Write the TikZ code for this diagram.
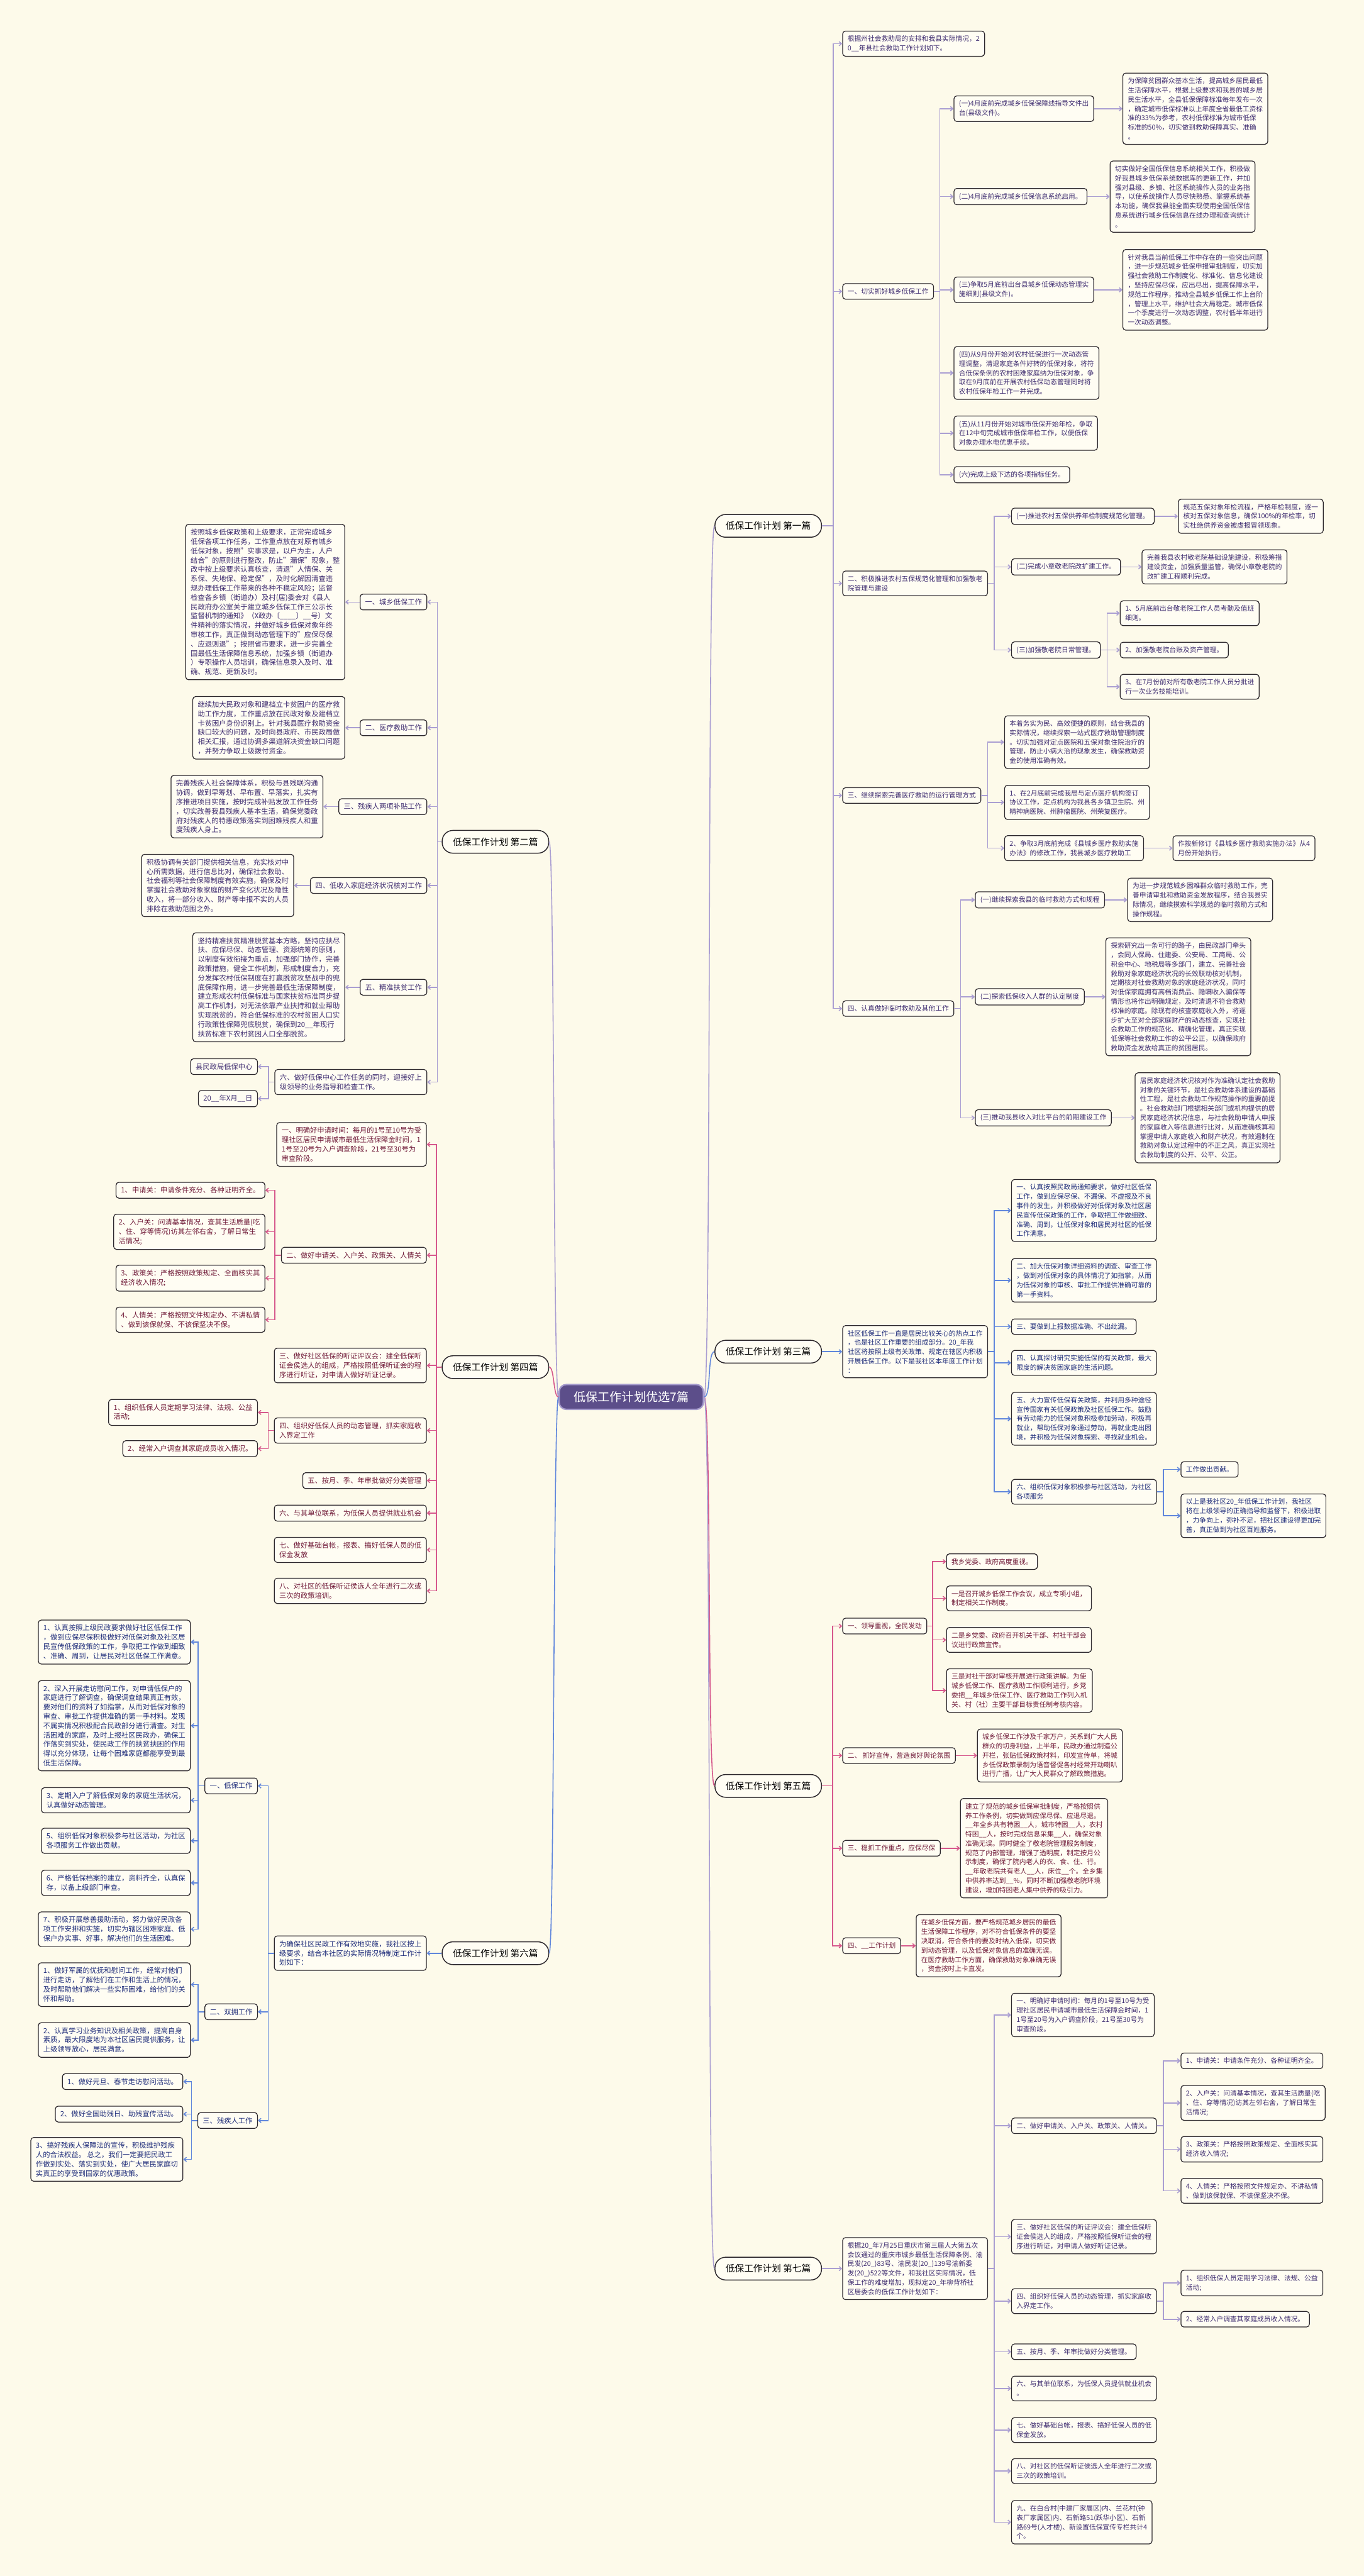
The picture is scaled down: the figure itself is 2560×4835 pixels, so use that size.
\documentclass[tikz,border=0pt]{standalone}
\usepackage{fontspec}
\setmainfont{Noto Sans CJK SC}
\usetikzlibrary{arrows.meta}
\definecolor{bgcol}{RGB}{253,250,234}
\definecolor{boxfill}{RGB}{255,253,243}
\definecolor{boxline}{RGB}{45,40,45}
\definecolor{lavline}{RGB}{170,158,210}
\definecolor{blueline}{RGB}{96,134,220}
\definecolor{pinkline}{RGB}{214,88,140}
\definecolor{purtext}{RGB}{62,44,112}
\definecolor{bluetext}{RGB}{30,44,122}
\definecolor{redtext}{RGB}{112,26,56}
\definecolor{rootfill}{RGB}{92,78,138}
\definecolor{rootline}{RGB}{165,155,205}
\begin{document}
\begin{tikzpicture}[x=0.75pt,y=0.75pt,yscale=-1,
  box/.style={draw=boxline,line width=1.1pt,rounded corners=4pt,fill=boxfill,align=left,inner xsep=7pt,inner ysep=6.5pt,font=\fontsize{9.5}{13.1}\selectfont},
  rbox/.style={box,anchor=west},
  lbox/.style={box,anchor=east,font=\fontsize{10}{13.1}\selectfont},
  purtxt/.style={text=purtext},
  blutxt/.style={text=bluetext},
  redtxt/.style={text=redtext},
  branch/.style={draw=boxline,line width=1.3pt,rounded corners=15pt,fill=boxfill,minimum width=150pt,minimum height=32pt,font=\fontsize{13}{15}\selectfont},
  root/.style={draw=rootline,line width=2pt,rounded corners=10pt,fill=rootfill,text=white,minimum width=203pt,minimum height=35pt,font=\fontsize{17}{19}\selectfont},
  lav/.style={draw=lavline,line width=1.4pt,-{Straight Barb[length=3.5pt,width=6pt]}},
  blu/.style={draw=blueline,line width=1.4pt,-{Straight Barb[length=3.5pt,width=6pt]}},
  pnk/.style={draw=pinkline,line width=1.4pt,-{Straight Barb[length=3.5pt,width=6pt]}},
  lavc/.style={draw=lavline,line width=1.4pt},
  bluc/.style={draw=blueline,line width=1.4pt},
  pnkc/.style={draw=pinkline,line width=1.4pt}]
%set diagram to the page: 2560 x 4835
\fill[bgcol] (0,0) rectangle (2560,4835);
\useasboundingbox (0,0) rectangle (2560,4835);

\node[root] (root) at (1185,2622) {低保工作计划优选7篇};
\node[branch] (b1) at (1442,987) {低保工作计划 第一篇};
\node[branch] (b3) at (1442,2537) {低保工作计划 第三篇};
\node[branch] (b5) at (1442,3352) {低保工作计划 第五篇};
\node[branch] (b7) at (1442,4258) {低保工作计划 第七篇};
\node[branch] (b2) at (930,1580) {低保工作计划 第二篇};
\node[branch] (b4) at (930,2566) {低保工作计划 第四篇};
\node[branch] (b6) at (930,3666) {低保工作计划 第六篇};

\draw[lavc] (root.east) .. controls +(14,0) and +(-14,0) .. (b1.west);
\draw[bluc] (root.east) .. controls +(14,0) and +(-14,0) .. (b3.west);
\draw[pnkc] (root.east) .. controls +(14,0) and +(-14,0) .. (b5.west);
\draw[lavc] (root.east) .. controls +(14,0) and +(-14,0) .. (b7.west);
\draw[lavc] (root.west) .. controls +(-10,0) and +(10,0) .. (b2.east);
\draw[pnkc] (root.west) .. controls +(-10,0) and +(10,0) .. (b4.east);
\draw[bluc] (root.west) .. controls +(-10,0) and +(10,0) .. (b6.east);

\node[rbox,purtxt] (intro1) at (1581,82) {根据州社会救助局的安排和我县实际情况，2\\0\_\_年县社会救助工作计划如下。};
\node[rbox,purtxt] (s1) at (1581,547) {一、切实抓好城乡低保工作};
\node[rbox,purtxt] (s1a) at (1790,204) {(一)4月底前完成城乡低保保障线指导文件出\\台(县级文件)。};
\node[rbox,purtxt] (s1a1) at (2107,204) {为保障贫困群众基本生活，提高城乡居民最低\\生活保障水平，根据上级要求和我县的城乡居\\民生活水平，全县低保保障标准每年发布一次\\，确定城市低保标准以上年度全省最低工资标\\准的33\%为参考，农村低保标准为城市低保\\标准的50\%，切实做到救助保障真实、准确\\。};
\node[rbox,purtxt] (s1b) at (1790,369) {(二)4月底前完成城乡低保信息系统启用。};
\node[rbox,purtxt] (s1b1) at (2083,369) {切实做好全国低保信息系统相关工作，积极做\\好我县城乡低保系统数据库的更新工作，并加\\强对县级、乡镇、社区系统操作人员的业务指\\导，以使系统操作人员尽快熟悉、掌握系统基\\本功能，确保我县能全面实现使用全国低保信\\息系统进行城乡低保信息在线办理和查询统计\\。};
\node[rbox,purtxt] (s1c) at (1790,544) {(三)争取5月底前出台县城乡低保动态管理实\\施细则(县级文件)。};
\node[rbox,purtxt] (s1c1) at (2107,544) {针对我县当前低保工作中存在的一些突出问题\\，进一步规范城乡低保申报审批制度，切实加\\强社会救助工作制度化、标准化、信息化建设\\，坚持应保尽保，应出尽出，提高保障水平，\\规范工作程序，推动全县城乡低保工作上台阶\\，管理上水平，维护社会大局稳定。城市低保\\一个季度进行一次动态调整，农村低半年进行\\一次动态调整。};
\node[rbox,purtxt] (s1d) at (1790,700) {(四)从9月份开始对农村低保进行一次动态管\\理调整，清退家庭条件好转的低保对象，将符\\合低保条例的农村困难家庭纳为低保对象，争\\取在9月底前在开展农村低保动态管理同时将\\农村低保年检工作一并完成。};
\node[rbox,purtxt] (s1e) at (1790,813) {(五)从11月份开始对城市低保开始年检，争取\\在12中旬完成城市低保年检工作，以便低保\\对象办理水电优惠手续。};
\node[rbox,purtxt] (s1f) at (1790,891) {(六)完成上级下达的各项指标任务。};
\node[rbox,purtxt] (s2) at (1581,1095) {二、积极推进农村五保规范化管理和加强敬老\\院管理与建设};
\node[rbox,purtxt] (s2a) at (1898,969) {(一)推进农村五保供养年检制度规范化管理。};
\node[rbox,purtxt] (s2a1) at (2211,969) {规范五保对象年检流程，严格年检制度，逐一\\核对五保对象信息，确保100\%的年检率，切\\实杜绝供养资金被虚报冒领现象。};
\node[rbox,purtxt] (s2b) at (1898,1064) {(二)完成小章敬老院改扩建工作。};
\node[rbox,purtxt] (s2b1) at (2143,1064) {完善我县农村敬老院基础设施建设，积极筹措\\建设资金，加强质量监管，确保小章敬老院的\\改扩建工程顺利完成。};
\node[rbox,purtxt] (s2c) at (1898,1220) {(三)加强敬老院日常管理。};
\node[rbox,purtxt] (s2c1) at (2102,1151) {1、5月底前出台敬老院工作人员考勤及值班\\细则。};
\node[rbox,purtxt] (s2c2) at (2102,1220) {2、加强敬老院台账及资产管理。};
\node[rbox,purtxt] (s2c3) at (2102,1289) {3、在7月份前对所有敬老院工作人员分批进\\行一次业务技能培训。};
\node[rbox,purtxt] (s3) at (1581,1493) {三、继续探索完善医疗救助的运行管理方式};
\node[rbox,purtxt] (s3a) at (1885,1393) {本着务实为民、高效便捷的原则，结合我县的\\实际情况，继续探索一站式医疗救助管理制度\\。切实加强对定点医院和五保对象住院治疗的\\管理，防止小病大治的现象发生，确保救助资\\金的使用准确有效。};
\node[rbox,purtxt] (s3b) at (1885,1506) {1、在2月底前完成我局与定点医疗机构签订\\协议工作，定点机构为我县各乡镇卫生院、州\\精神病医院、州肿瘤医院、州荣复医疗。};
\node[rbox,purtxt] (s3c) at (1885,1592) {2、争取3月底前完成《县城乡医疗救助实施\\办法》的修改工作，我县城乡医疗救助工};
\node[rbox,purtxt] (s3c1) at (2201,1592) {作按新修订《县城乡医疗救助实施办法》从4\\月份开始执行。};
\node[rbox,purtxt] (s4) at (1581,1893) {四、认真做好临时救助及其他工作};
\node[rbox,purtxt] (s4a) at (1830,1689) {(一)继续探索我县的临时救助方式和规程};
\node[rbox,purtxt] (s4a1) at (2116,1689) {为进一步规范城乡困难群众临时救助工作，完\\善申请审批和救助资金发放程序，结合我县实\\际情况，继续摸索科学规范的临时救助方式和\\操作规程。};
\node[rbox,purtxt] (s4b) at (1830,1871) {(二)探索低保收入人群的认定制度};
\node[rbox,purtxt] (s4b1) at (2075,1871) {探索研究出一条可行的路子，由民政部门牵头\\，会同人保局、住建委、公安局、工商局、公\\积金中心、地税局等多部门，建立、完善社会\\救助对象家庭经济状况的长效联动核对机制，\\定期核对社会救助对象的家庭经济状况，同时\\对低保家庭拥有高档消费品、隐瞒收入骗保等\\情形也将作出明确规定，及时清退不符合救助\\标准的家庭。除现有的核查家庭收入外，将逐\\步扩大至对全部家庭财产的动态核查，实现社\\会救助工作的规范化、精确化管理，真正实现\\低保等社会救助工作的公平公正，以确保政府\\救助资金发放给真正的贫困居民。};
\node[rbox,purtxt] (s4c) at (1830,2098) {(三)推动我县收入对比平台的前期建设工作};
\node[rbox,purtxt] (s4c1) at (2130,2098) {居民家庭经济状况核对作为准确认定社会救助\\对象的关键环节，是社会救助体系建设的基础\\性工程，是社会救助工作规范操作的重要前提\\。社会救助部门根据相关部门或机构提供的居\\民家庭经济状况信息，与社会救助申请人申报\\的家庭收入等信息进行比对，从而准确核算和\\掌握申请人家庭收入和财产状况，有效遏制在\\救助对象认定过程中的不正之风，真正实现社\\会救助制度的公开、公平、公正。};

\draw[lav] (b1.east) -- ++(21,0) |- (intro1.west);
\draw[lav] (b1.east) -- ++(21,0) |- (s1.west);
\draw[lav] (b1.east) -- ++(21,0) |- (s2.west);
\draw[lav] (b1.east) -- ++(21,0) |- (s3.west);
\draw[lav] (b1.east) -- ++(21,0) |- (s4.west);
\draw[lav] (s1.east) -- ++(11,0) |- (s1a.west);
\draw[lav] (s1.east) -- ++(11,0) |- (s1b.west);
\draw[lav] (s1.east) -- ++(11,0) |- (s1c.west);
\draw[lav] (s1.east) -- ++(11,0) |- (s1d.west);
\draw[lav] (s1.east) -- ++(11,0) |- (s1e.west);
\draw[lav] (s1.east) -- ++(11,0) |- (s1f.west);
\draw[lav] (s1a.east) -- (s1a1.west);
\draw[lav] (s1b.east) -- (s1b1.west);
\draw[lav] (s1c.east) -- (s1c1.west);
\draw[lav] (s2.east) -- ++(12,0) |- (s2a.west);
\draw[lav] (s2.east) -- ++(12,0) |- (s2b.west);
\draw[lav] (s2.east) -- ++(12,0) |- (s2c.west);
\draw[lav] (s2a.east) -- (s2a1.west);
\draw[lav] (s2b.east) -- (s2b1.west);
\draw[lav] (s2c.east) -- ++(12,0) |- (s2c1.west);
\draw[lav] (s2c.east) -- ++(12,0) |- (s2c2.west);
\draw[lav] (s2c.east) -- ++(12,0) |- (s2c3.west);
\draw[lav] (s3.east) -- ++(12,0) |- (s3a.west);
\draw[lav] (s3.east) -- ++(12,0) |- (s3b.west);
\draw[lav] (s3.east) -- ++(12,0) |- (s3c.west);
\draw[lav] (s3c.east) -- (s3c1.west);
\draw[lav] (s4.east) -- ++(12,0) |- (s4a.west);
\draw[lav] (s4.east) -- ++(12,0) |- (s4b.west);
\draw[lav] (s4.east) -- ++(12,0) |- (s4c.west);
\draw[lav] (s4a.east) -- (s4a1.west);
\draw[lav] (s4b.east) -- (s4b1.west);
\draw[lav] (s4c.east) -- (s4c1.west);

\node[rbox,blutxt] (t0) at (1581,2537) {社区低保工作一直是居民比较关心的热点工作\\，也是社区工作重要的组成部分。20\_年我\\社区将按照上级有关政策、规定在辖区内积极\\开展低保工作。以下是我社区本年度工作计划\\：};
\node[rbox,blutxt] (t1) at (1898,2272) {一、认真按照民政局通知要求，做好社区低保\\工作，做到应保尽保、不漏保、不虚报及不良\\事件的发生，并积极做好对低保对象及社区居\\民宣传低保政策的工作，争取把工作做细致、\\准确、周到，让低保对象和居民对社区的低保\\工作满意。};
\node[rbox,blutxt] (t2) at (1898,2403) {二、加大低保对象详细资料的调查、审查工作\\，做到对低保对象的具体情况了如指掌，从而\\为低保对象的审核、审批工作提供准确可靠的\\第一手资料。};
\node[rbox,blutxt] (t3) at (1898,2490) {三、要做到上报数据准确、不出纰漏。};
\node[rbox,blutxt] (t4) at (1898,2558) {四、认真探讨研究实施低保的有关政策，最大\\限度的解决贫困家庭的生活问题。};
\node[rbox,blutxt] (t5) at (1898,2663) {五、大力宣传低保有关政策，并利用多种途径\\宣传国家有关低保政策及社区低保工作。鼓励\\有劳动能力的低保对象积极参加劳动，积极再\\就业，帮助低保对象通过劳动，再就业走出困\\境，并积极为低保对象探索、寻找就业机会。};
\node[rbox,blutxt] (t6) at (1898,2800) {六、组织低保对象积极参与社区活动，为社区\\各项服务};
\node[rbox,blutxt] (t6a) at (2216,2758) {工作做出贡献。};
\node[rbox,blutxt] (t6b) at (2216,2845) {以上是我社区20\_年低保工作计划，我社区\\将在上级领导的正确指导和监督下，积极进取\\，力争向上，弥补不足，把社区建设得更加完\\善，真正做到为社区百姓服务。};

\draw[blu] (b3.east) -- (t0.west);
\draw[blu] (t0.east) -- ++(12,0) |- (t1.west);
\draw[blu] (t0.east) -- ++(12,0) |- (t2.west);
\draw[blu] (t0.east) -- ++(12,0) |- (t3.west);
\draw[blu] (t0.east) -- ++(12,0) |- (t4.west);
\draw[blu] (t0.east) -- ++(12,0) |- (t5.west);
\draw[blu] (t0.east) -- ++(12,0) |- (t6.west);
\draw[blu] (t6.east) -- ++(12,0) |- (t6a.west);
\draw[blu] (t6.east) -- ++(12,0) |- (t6b.west);

\node[rbox,redtxt] (f1) at (1581,3052) {一、领导重视，全民发动};
\node[rbox,redtxt] (f1a) at (1776,2931) {我乡党委、政府高度重视。};
\node[rbox,redtxt] (f1b) at (1776,3000) {一是召开城乡低保工作会议，成立专项小组，\\制定相关工作制度。};
\node[rbox,redtxt] (f1c) at (1776,3078) {二是乡党委、政府召开机关干部、村社干部会\\议进行政策宣传。};
\node[rbox,redtxt] (f1d) at (1776,3173) {三是对社干部对审核开展进行政策讲解。为使\\城乡低保工作、医疗救助工作顺利进行，乡党\\委把\_\_年城乡低保工作、医疗救助工作列入机\\关、村（社）主要干部目标责任制考核内容。};
\node[rbox,redtxt] (f2) at (1581,3295) {二、 抓好宣传，营造良好舆论氛围};
\node[rbox,redtxt] (f2a) at (1834,3295) {城乡低保工作涉及千家万户，关系到广大人民\\群众的切身利益，上半年，民政办通过制造公\\开栏，张贴低保政策材料，印发宣传单，将城\\乡低保政策录制为语音督促各村经常开动喇叭\\进行广播，让广大人民群众了解政策措施。};
\node[rbox,redtxt] (f3) at (1581,3469) {三、稳抓工作重点，应保尽保};
\node[rbox,redtxt] (f3a) at (1802,3469) {建立了规范的城乡低保审批制度，严格按照供\\养工作条例，切实做到应保尽保、应退尽退。\\\_\_年全乡共有特困\_\_人，城市特困\_\_人，农村\\特困\_\_人，按时完成信息采集\_\_人，确保对象\\准确无误。同时健全了敬老院管理服务制度，\\规范了内部管理，增强了透明度，制定按月公\\示制度，确保了院内老人的衣、食、住、行。\\\_\_年敬老院共有老人\_\_人，床位\_\_个。全乡集\\中供养率达到\_\_\%，同时不断加强敬老院环境\\建设，增加特困老人集中供养的吸引力。};
\node[rbox,redtxt] (f4) at (1581,3652) {四、\_\_工作计划};
\node[rbox,redtxt] (f4a) at (1719,3652) {在城乡低保方面，要严格规范城乡居民的最低\\生活保障工作程序，对不符合低保条件的要坚\\决取消，符合条件的要及时纳入低保，切实做\\到动态管理，以及低保对象信息的准确无误。\\在医疗救助工作方面，确保救助对象准确无误\\，资金按时上卡直发。};

\draw[pnk] (b5.east) -- ++(20,0) |- (f1.west);
\draw[pnk] (b5.east) -- ++(20,0) |- (f2.west);
\draw[pnk] (b5.east) -- ++(20,0) |- (f3.west);
\draw[pnk] (b5.east) -- ++(20,0) |- (f4.west);
\draw[pnk] (f1.east) -- ++(10,0) |- (f1a.west);
\draw[pnk] (f1.east) -- ++(10,0) |- (f1b.west);
\draw[pnk] (f1.east) -- ++(10,0) |- (f1c.west);
\draw[pnk] (f1.east) -- ++(10,0) |- (f1d.west);
\draw[pnk] (f2.east) -- (f2a.west);
\draw[pnk] (f3.east) -- (f3a.west);
\draw[pnk] (f4.east) -- (f4a.west);

\node[rbox,purtxt] (g0) at (1581,4258) {根据20\_年7月25日重庆市第三届人大第五次\\会议通过的重庆市城乡最低生活保障条例、渝\\民发(20\_)83号、渝民发(20\_)139号渝新委\\发(20\_)522等文件，和我社区实际情况，低\\保工作的难度增加，现拟定20\_年柳背桥社\\区居委会的低保工作计划如下：};
\node[rbox,purtxt] (g1) at (1898,3782) {一、明确好申请时间：每月的1号至10号为受\\理社区居民申请城市最低生活保障金时间，1\\1号至20号为入户调查阶段，21号至30号为\\审查阶段。};
\node[rbox,purtxt] (g2) at (1898,3990) {二、做好申请关、入户关、政策关、人情关。};
\node[rbox,purtxt] (g2a) at (2216,3868) {1、申请关：申请条件充分、各种证明齐全。};
\node[rbox,purtxt] (g2b) at (2216,3947) {2、入户关：问清基本情况，查其生活质量(吃\\、住、穿等情况)访其左邻右舍，了解日常生\\活情况;};
\node[rbox,purtxt] (g2c) at (2216,4034) {3、政策关：严格按照政策规定、全面核实其\\经济收入情况;};
\node[rbox,purtxt] (g2d) at (2216,4112) {4、人情关：严格按照文件规定办、不讲私情\\、做到该保就保、不该保坚决不保。};
\node[rbox,purtxt] (g3) at (1898,4198) {三、做好社区低保的听证评议会：建全低保听\\证会侯选人的组成，严格按照低保听证会的程\\序进行听证，对申请人做好听证记录。};
\node[rbox,purtxt] (g4) at (1898,4319) {四、组织好低保人员的动态管理，抓实家庭收\\入界定工作。};
\node[rbox,purtxt] (g4a) at (2216,4285) {1、组织低保人员定期学习法律、法规、公益\\活动;};
\node[rbox,purtxt] (g4b) at (2216,4353) {2、经常入户调查其家庭成员收入情况。};
\node[rbox,purtxt] (g5) at (1898,4414) {五、按月、季、年审批做好分类管理。};
\node[rbox,purtxt] (g6) at (1898,4483) {六、与其单位联系，为低保人员提供就业机会\\。};
\node[rbox,purtxt] (g7) at (1898,4561) {七、做好基础台帐，报表、搞好低保人员的低\\保金发放。};
\node[rbox,purtxt] (g8) at (1898,4638) {八、对社区的低保听证侯选人全年进行二次或\\三次的政策培训。};
\node[rbox,purtxt] (g9) at (1898,4734) {九、在白合村(中建厂家属区)内、兰花村(钟\\表厂家属区)内、石新路51(跃华小区)、石新\\路69号(人才楼)、新设置低保宣传专栏共计4\\个。};

\draw[lav] (b7.east) -- (g0.west);
\draw[lav] (g0.east) -- ++(12,0) |- (g1.west);
\draw[lav] (g0.east) -- ++(12,0) |- (g2.west);
\draw[lav] (g0.east) -- ++(12,0) |- (g3.west);
\draw[lav] (g0.east) -- ++(12,0) |- (g4.west);
\draw[lav] (g0.east) -- ++(12,0) |- (g5.west);
\draw[lav] (g0.east) -- ++(12,0) |- (g6.west);
\draw[lav] (g0.east) -- ++(12,0) |- (g7.west);
\draw[lav] (g0.east) -- ++(12,0) |- (g8.west);
\draw[lav] (g0.east) -- ++(12,0) |- (g9.west);
\draw[lav] (g2.east) -- ++(12,0) |- (g2a.west);
\draw[lav] (g2.east) -- ++(12,0) |- (g2b.west);
\draw[lav] (g2.east) -- ++(12,0) |- (g2c.west);
\draw[lav] (g2.east) -- ++(12,0) |- (g2d.west);
\draw[lav] (g4.east) -- ++(12,0) |- (g4a.west);
\draw[lav] (g4.east) -- ++(12,0) |- (g4b.west);

\node[lbox,purtxt] (e1) at (802,1130) {一、城乡低保工作};
\node[lbox,purtxt] (e1a) at (648,1130) {按照城乡低保政策和上级要求，正常完成城乡\\低保各项工作任务，工作重点放在对原有城乡\\低保对象，按照"实事求是，以户为主，人户\\结合"的原则进行整改，防止"漏保"现象，整\\改中按上级要求认真核查，清退"人情保、关\\系保、失地保、稳定保"，及时化解因清查违\\规办理低保工作带来的各种不稳定风险；监督\\检查各乡镇（街道办）及村(居)委会对《县人\\民政府办公室关于建立城乡低保工作三公示长\\监督机制的通知》（X政办〔\_\_\_\_〕\_\_号）文\\件精神的落实情况，并做好城乡低保对象年终\\审核工作，真正做到动态管理下的"应保尽保\\、应退则退"；按照省市要求，进一步完善全\\国最低生活保障信息系统，加强乡镇（街道办\\）专职操作人员培训，确保信息录入及时、准\\确、规范、更新及时。};
\node[lbox,purtxt] (e2) at (802,1366) {二、医疗救助工作};
\node[lbox,purtxt] (e2a) at (648,1366) {继续加大民政对象和建档立卡贫困户的医疗救\\助工作力度，工作重点放在民政对象及建档立\\卡贫困户身份识别上。针对我县医疗救助资金\\缺口较大的问题，及时向县政府、市民政局做\\相关汇报，通过协调多渠道解决资金缺口问题\\，并努力争取上级拨付资金。};
\node[lbox,purtxt] (e3) at (802,1514) {三、残疾人两项补贴工作};
\node[lbox,purtxt] (e3a) at (607,1514) {完善残疾人社会保障体系，积极与县残联沟通\\协调，做到早筹划、早布置、早落实，扎实有\\序推进项目实施，按时完成补贴发放工作任务\\，切实改善我县残疾人基本生活，确保党委政\\府对残疾人的特惠政策落实到困难残疾人和重\\度残疾人身上。};
\node[lbox,purtxt] (e4) at (802,1662) {四、低收入家庭经济状况核对工作};
\node[lbox,purtxt] (e4a) at (552,1662) {积极协调有关部门提供相关信息，充实核对中\\心所需数据，进行信息比对，确保社会救助、\\社会福利等社会保障制度有效实施，确保及时\\掌握社会救助对象家庭的财产变化状况及隐性\\收入，将一部分收入、财产等申报不实的人员\\排除在救助范围之外。};
\node[lbox,purtxt] (e5) at (802,1853) {五、精准扶贫工作};
\node[lbox,purtxt] (e5a) at (648,1853) {坚持精准扶贫精准脱贫基本方略，坚持应扶尽\\扶、应保尽保、动态管理、资源统筹的原则，\\以制度有效衔接为重点，加强部门协作，完善\\政策措施，健全工作机制，形成制度合力，充\\分发挥农村低保制度在打赢脱贫攻坚战中的兜\\底保障作用，进一步完善最低生活保障制度，\\建立形成农村低保标准与国家扶贫标准同步提\\高工作机制，对无法依靠产业扶持和就业帮助\\实现脱贫的，符合低保标准的农村贫困人口实\\行政策性保障兜底脱贫，确保到20\_\_年现行\\扶贫标准下农村贫困人口全部脱贫。};
\node[lbox,purtxt] (e6) at (802,2031) {六、做好低保中心工作任务的同时，迎接好上\\级领导的业务指导和检查工作。};
\node[lbox,purtxt] (e6a) at (484,2002) {县民政局低保中心};
\node[lbox,purtxt] (e6b) at (484,2062) {20\_\_年X月\_\_日};

\draw[lav] (b2.west) -- ++(-8,0) |- (e1.east);
\draw[lav] (b2.west) -- ++(-8,0) |- (e2.east);
\draw[lav] (b2.west) -- ++(-8,0) |- (e3.east);
\draw[lav] (b2.west) -- ++(-8,0) |- (e4.east);
\draw[lav] (b2.west) -- ++(-8,0) |- (e5.east);
\draw[lav] (b2.west) -- ++(-8,0) |- (e6.east);
\draw[lav] (e1.west) -- (e1a.east);
\draw[lav] (e2.west) -- (e2a.east);
\draw[lav] (e3.west) -- (e3a.east);
\draw[lav] (e4.west) -- (e4a.east);
\draw[lav] (e5.west) -- (e5a.east);
\draw[lav] (e6.west) -- ++(-11,0) |- (e6a.east);
\draw[lav] (e6.west) -- ++(-11,0) |- (e6b.east);

\node[lbox,redtxt] (h1) at (801,2148) {一、明确好申请时间：每月的1号至10号为受\\理社区居民申请城市最低生活保障金时间，1\\1号至20号为入户调查阶段，21号至30号为\\审查阶段。};
\node[lbox,redtxt] (h2) at (801,2356) {二、做好申请关、入户关、政策关、人情关};
\node[lbox,redtxt] (h2a) at (498,2234) {1、申请关：申请条件充分、各种证明齐全。};
\node[lbox,redtxt] (h2b) at (498,2312) {2、入户关：问清基本情况，查其生活质量(吃\\、住、穿等情况)访其左邻右舍，了解日常生\\活情况;};
\node[lbox,redtxt] (h2c) at (498,2399) {3、政策关：严格按照政策规定、全面核实其\\经济收入情况;};
\node[lbox,redtxt] (h2d) at (498,2477) {4、人情关：严格按照文件规定办、不讲私情\\、做到该保就保、不该保坚决不保。};
\node[lbox,redtxt] (h3) at (801,2563) {三、做好社区低保的听证评议会：建全低保听\\证会侯选人的组成，严格按照低保听证会的程\\序进行听证，对申请人做好听证记录。};
\node[lbox,redtxt] (h4) at (801,2685) {四、组织好低保人员的动态管理，抓实家庭收\\入界定工作};
\node[lbox,redtxt] (h4a) at (484,2651) {1、组织低保人员定期学习法律、法规、公益\\活动;};
\node[lbox,redtxt] (h4b) at (484,2719) {2、经常入户调查其家庭成员收入情况。};
\node[lbox,redtxt] (h5) at (801,2779) {五、按月、季、年审批做好分类管理};
\node[lbox,redtxt] (h6) at (801,2840) {六、与其单位联系，为低保人员提供就业机会};
\node[lbox,redtxt] (h7) at (801,2909) {七、做好基础台帐，报表、搞好低保人员的低\\保金发放};
\node[lbox,redtxt] (h8) at (801,2986) {八、对社区的低保听证侯选人全年进行二次或\\三次的政策培训。};

\draw[pnk] (b4.west) -- ++(-10,0) |- (h1.east);
\draw[pnk] (b4.west) -- ++(-10,0) |- (h2.east);
\draw[pnk] (b4.west) -- ++(-10,0) |- (h3.east);
\draw[pnk] (b4.west) -- ++(-10,0) |- (h4.east);
\draw[pnk] (b4.west) -- ++(-10,0) |- (h5.east);
\draw[pnk] (b4.west) -- ++(-10,0) |- (h6.east);
\draw[pnk] (b4.west) -- ++(-10,0) |- (h7.east);
\draw[pnk] (b4.west) -- ++(-10,0) |- (h8.east);
\draw[pnk] (h2.west) -- ++(-12,0) |- (h2a.east);
\draw[pnk] (h2.west) -- ++(-12,0) |- (h2b.east);
\draw[pnk] (h2.west) -- ++(-12,0) |- (h2c.east);
\draw[pnk] (h2.west) -- ++(-12,0) |- (h2d.east);
\draw[pnk] (h4.west) -- ++(-11,0) |- (h4a.east);
\draw[pnk] (h4.west) -- ++(-11,0) |- (h4b.east);

\node[lbox,blutxt] (k0) at (801,3666) {为确保社区民政工作有效地实施，我社区按上\\级要求，结合本社区的实际情况特制定工作计\\划如下：};
\node[lbox,blutxt] (k1) at (484,3352) {一、低保工作};
\node[lbox,blutxt] (k1a) at (358,3082) {1、认真按照上级民政要求做好社区低保工作\\，做到应保尽保积极做好对低保对象及社区居\\民宣传低保政策的工作，争取把工作做到细致\\、准确、周到，让居民对社区低保工作满意。};
\node[lbox,blutxt] (k1b) at (358,3239) {2、深入开展走访慰问工作，对申请低保户的\\家庭进行了解调查，确保调查结果真正有效，\\要对他们的资料了如指掌，从而对低保对象的\\审查、审批工作提供准确的第一手材料。发现\\不属实情况积极配合民政部分进行清查。对生\\活困难的家庭，及时上报社区民政办，确保工\\作落实到实处，使民政工作的扶贫扶困的作用\\得以充分体现，让每个困难家庭都能享受到最\\低生活保障。};
\node[lbox,blutxt] (k1c) at (358,3379) {3、定期入户了解低保对象的家庭生活状况，\\认真做好动态管理。};
\node[lbox,blutxt] (k1d) at (358,3455) {5、组织低保对象积极参与社区活动，为社区\\各项服务工作做出贡献。};
\node[lbox,blutxt] (k1e) at (358,3534) {6、严格低保档案的建立，资料齐全，认真保\\存，以备上级部门审查。};
\node[lbox,blutxt] (k1f) at (358,3621) {7、积极开展慈善援助活动，努力做好民政各\\项工作安排和实施，切实为辖区困难家庭、低\\保户办实事、好事，解决他们的生活困难。};
\node[lbox,blutxt] (k2) at (484,3776) {二、双拥工作};
\node[lbox,blutxt] (k2a) at (358,3725) {1、做好军属的优抚和慰问工作，经常对他们\\进行走访，了解他们在工作和生活上的情况，\\及时帮助他们解决一些实际困难，给他们的关\\怀和帮助。};
\node[lbox,blutxt] (k2b) at (358,3829) {2、认真学习业务知识及相关政策，提高自身\\素质，最大限度地为本社区居民提供服务，让\\上级领导放心，居民满意。};
\node[lbox,blutxt] (k3) at (484,3980) {三、残疾人工作};
\node[lbox,blutxt] (k3a) at (344,3907) {1、做好元旦、春节走访慰问活动。};
\node[lbox,blutxt] (k3b) at (344,3968) {2、做好全国助残日、助残宣传活动。};
\node[lbox,blutxt] (k3c) at (344,4053) {3、搞好残疾人保障法的宣传，积极维护残疾\\人的合法权益。 总之，我们一定要把民政工\\作做到实处、落实到实处，使广大居民家庭切\\实真正的享受到国家的优惠政策。};

\draw[blu] (b6.west) -- (k0.east);
\draw[blu] (k0.west) -- ++(-11,0) |- (k1.east);
\draw[blu] (k0.west) -- ++(-11,0) |- (k2.east);
\draw[blu] (k0.west) -- ++(-11,0) |- (k3.east);
\draw[blu] (k1.west) -- ++(-12,0) |- (k1a.east);
\draw[blu] (k1.west) -- ++(-12,0) |- (k1b.east);
\draw[blu] (k1.west) -- ++(-12,0) |- (k1c.east);
\draw[blu] (k1.west) -- ++(-12,0) |- (k1d.east);
\draw[blu] (k1.west) -- ++(-12,0) |- (k1e.east);
\draw[blu] (k1.west) -- ++(-12,0) |- (k1f.east);
\draw[blu] (k2.west) -- ++(-12,0) |- (k2a.east);
\draw[blu] (k2.west) -- ++(-12,0) |- (k2b.east);
\draw[blu] (k3.west) -- ++(-11,0) |- (k3a.east);
\draw[blu] (k3.west) -- ++(-11,0) |- (k3b.east);
\draw[blu] (k3.west) -- ++(-11,0) |- (k3c.east);

\end{tikzpicture}
\end{document}
